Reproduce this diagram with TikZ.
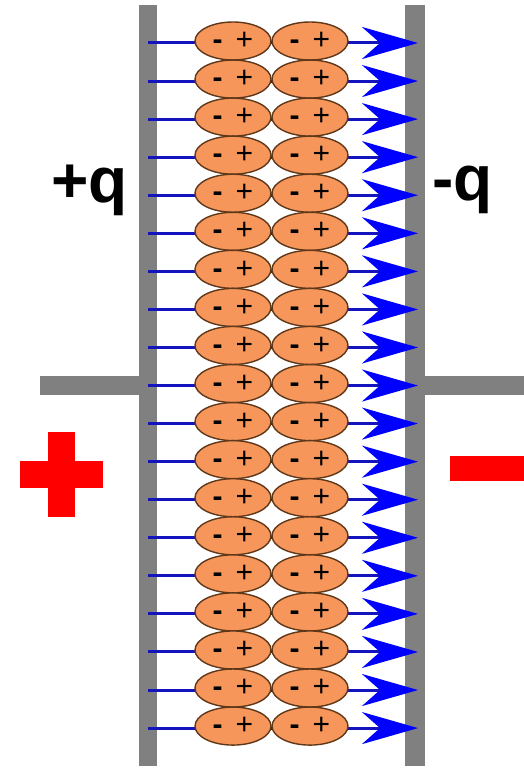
\documentclass[tikz,border=0pt]{standalone}
\usepackage{fontspec}
\setmainfont{Liberation Sans}
\usetikzlibrary{arrows.meta,shapes.geometric}
\definecolor{plategray}{RGB}{128,128,128}
\definecolor{dipole}{RGB}{246,150,90}
\definecolor{dipoleedge}{RGB}{95,55,25}
\definecolor{fieldline}{RGB}{20,20,190}
\definecolor{fieldtip}{RGB}{0,0,255}
\definecolor{signred}{RGB}{255,0,0}
\tikzset{
  plate/.style={fill=plategray,draw=none},
  dipolebox/.style={ellipse,draw=dipoleedge,line width=1.4pt,fill=dipole,minimum width=76pt,minimum height=38pt,inner sep=0pt,font=\fontsize{30}{30}\selectfont},
  fieldarrow/.style={draw=fieldline,line width=3pt,-{Stealth[length=56pt,width=32pt,inset=18pt,color=fieldtip]}},
  charge/.style={font=\fontsize{64}{64}\selectfont\bfseries,inner sep=0pt},
}
\newcommand{\dipoletext}{{\bfseries -}\hspace{13pt}+}
\begin{document}
\begin{tikzpicture}[x=1pt,y=-1pt]
\useasboundingbox (0,0) rectangle (524,768);
% plates and leads
\fill[plate] (139,5) rectangle (157,766);
\fill[plate] (405,5) rectangle (425,766);
\fill[plate] (40,376) rectangle (139,395);
\fill[plate] (425,376) rectangle (524,395);
% field lines and dipoles
\foreach \i in {0,...,18}{
  \pgfmathsetmacro{\yy}{43+38.06*\i}
  \coordinate (s\i) at (148,\yy);
  \coordinate (e\i) at (418,\yy);
  \draw[fieldarrow] (s\i) -- (e\i);
  \node[dipolebox] (a\i) at (233,\yy-2) {\dipoletext};
  \node[dipolebox] (b\i) at (310,\yy-2) {\dipoletext};
}
% charges
\node[charge,anchor=east] (pq) at (128,190) {+q};
\node[charge,anchor=west] (mq) at (432,190) {-q};
% signs
\fill[signred] (20,461) rectangle (103,488);
\fill[signred] (48,432) rectangle (75,517);
\fill[signred] (450,456) rectangle (524,481);
\end{tikzpicture}
\end{document}
